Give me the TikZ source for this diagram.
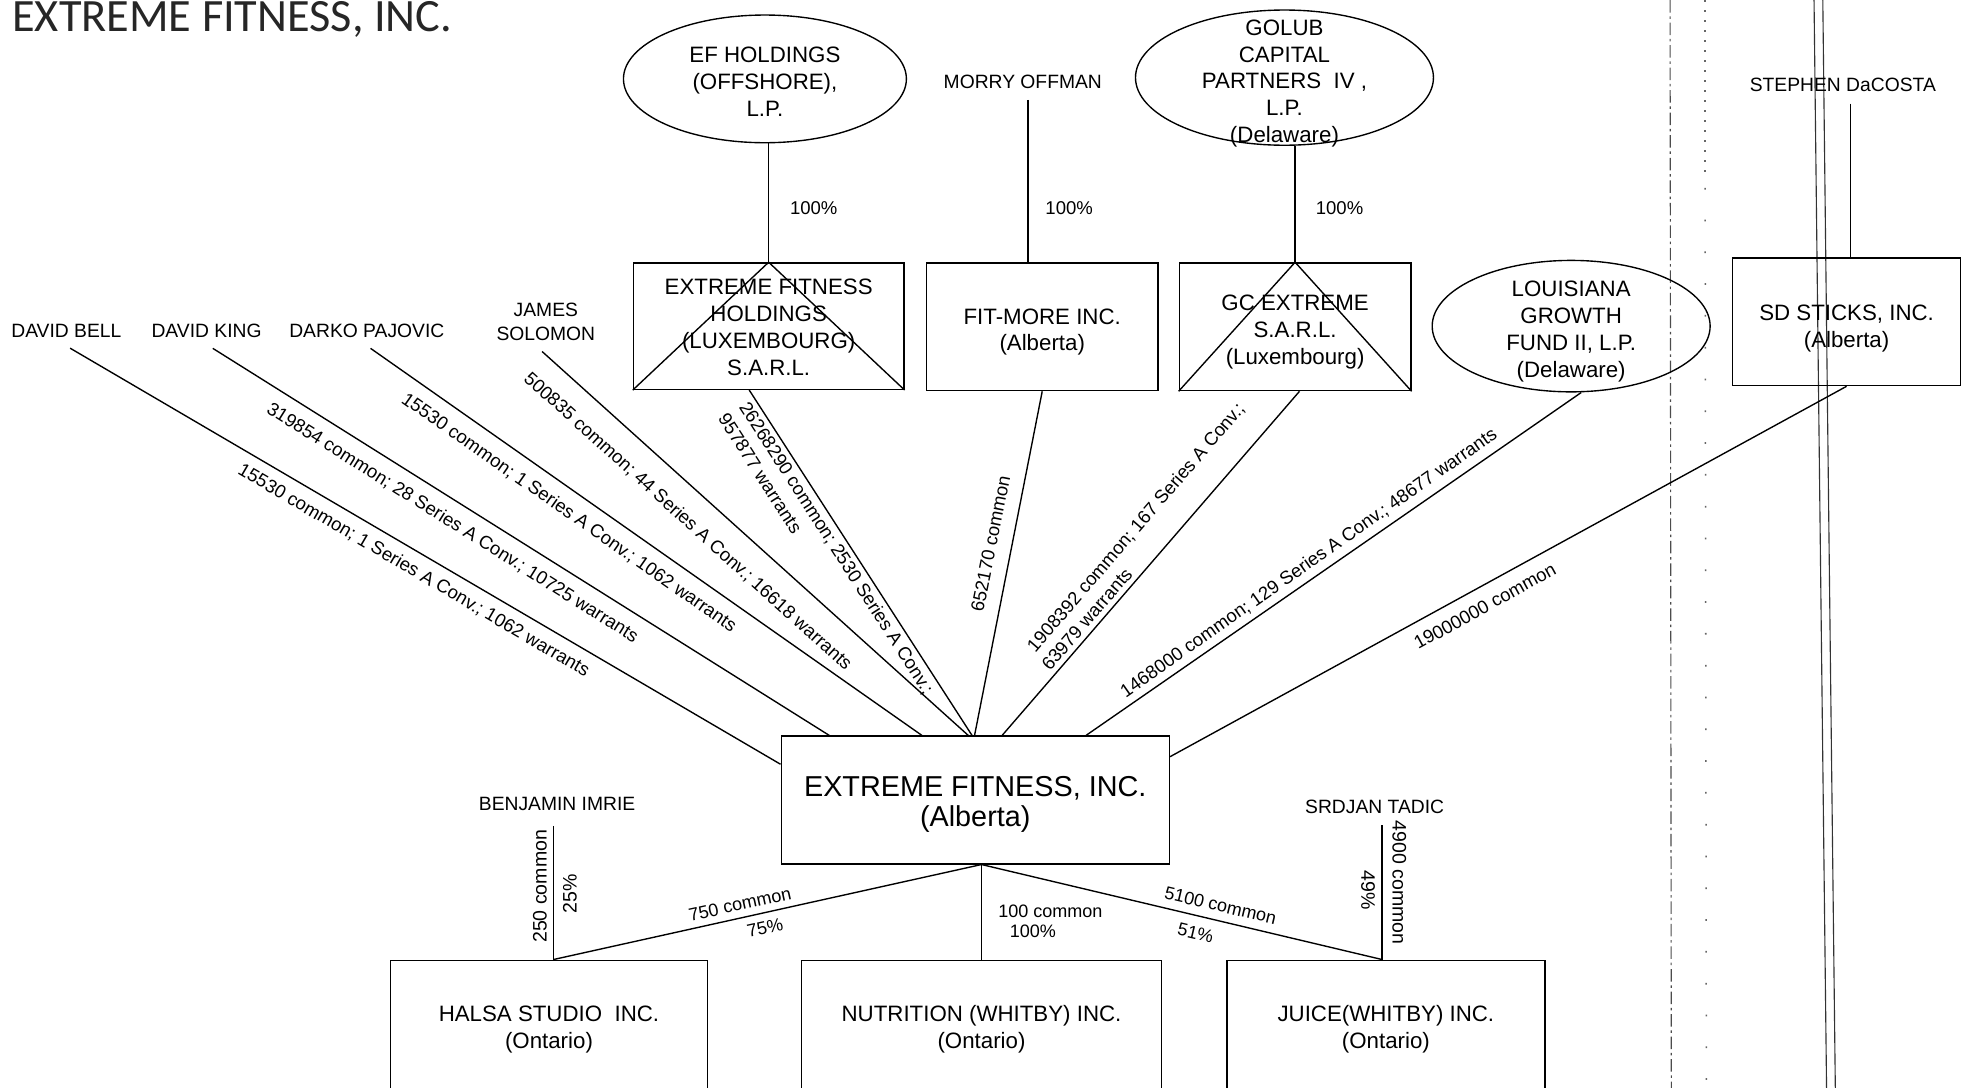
\documentclass[tikz,border=0pt]{standalone}
\usepackage{fontspec}
\setmainfont{Liberation Sans}
\newfontfamily\titlefont{Carlito}
\usetikzlibrary{shapes.geometric}
\newcommand{\mystrut}[1]{\rule{0pt}{#1}}
\tikzset{
  every node/.style={inner sep=0pt},
  conn/.style={line width=0.55pt},
  boxstyle/.style={draw, line width=0.55pt, rectangle, align=center, font=\fontsize{8.9}{10.75}\selectfont},
  ovalstyle/.style={draw, line width=0.55pt, ellipse, inner xsep=0pt, inner ysep=-12pt, align=center, font=\fontsize{8.9}{10.75}\selectfont},
  namestyle/.style={align=center, font=\fontsize{7.7}{9.5}\selectfont},
  topname/.style={namestyle, inner ysep=4.5pt},
  holder/.style={namestyle, inner ysep=4.2pt},
  lab/.style={font=\fontsize{7.4}{9}\selectfont, text height=5.3pt, text depth=0pt},
  blab/.style={font=\fontsize{7.2}{9}\selectfont, text height=5.2pt, text depth=0pt},
  vlab/.style={font=\fontsize{7.8}{9}\selectfont, text height=5.6pt, text depth=0pt},
  scan/.style={line width=0.45pt, black!80},
}
\begin{document}
\begin{tikzpicture}[x=0.5pt,y=-0.5pt]
\useasboundingbox (0,0) rectangle (1568,869);
\clip (0,0) rectangle (1568,869);

% scan artefacts
\draw[scan, black!70, dash pattern=on 5pt off 1.5pt on 1pt off 1.5pt] (1334,0) -- (1335,869);
\draw[scan, black!60, line width=0.6pt, dash pattern=on 0.7pt off 3.3pt] (1362,0) -- (1362,140);
\draw[scan, black!60, line width=0.6pt, dash pattern=on 0.7pt off 12pt] (1362,150) -- (1363,869);
\draw[scan] (1449,0) -- (1459,869);
\draw[scan] (1456,0) -- (1466,869);

% title
\node[anchor=base west, font=\titlefont\fontsize{18.5}{20}\selectfont, text=black!85] (title) at (9.5,25.5) {EXTREME FITNESS, INC.};

% top row
\node[ovalstyle, minimum width=113pt, minimum height=51pt] (efh) at (611,63) {\mystrut{8.4pt}EF HOLDINGS\\(OFFSHORE),\\L.P.};
\node[topname] (morry) at (817,65) {MORRY OFFMAN};
\node[ovalstyle, minimum width=119pt, minimum height=54pt] (golub) at (1026,62) {\mystrut{10.9pt}GOLUB\\CAPITAL\\PARTNERS\ \ IV\ ,\\L.P.\\(Delaware)};
\node[topname] (steph) at (1472,68) {STEPHEN DaCOSTA};

% second row
\node[boxstyle, minimum width=108pt, minimum height=50.5pt] (efl) at (614,260.5) {\mystrut{7.4pt}EXTREME FITNESS\\HOLDINGS\\(LUXEMBOURG)\\S.A.R.L.};
\node[boxstyle, minimum width=92.5pt, minimum height=51pt] (fitm) at (832.5,261) {\mystrut{10.4pt}FIT-MORE INC.\\(Alberta)};
\node[boxstyle, minimum width=92.5pt, minimum height=51pt] (gc) at (1034.5,261) {\mystrut{10.4pt}GC EXTREME\\S.A.R.L.\\(Luxembourg)};
\node[ovalstyle, minimum width=111pt, minimum height=52.5pt] (lou) at (1255,260.5) {\mystrut{10.4pt}LOUISIANA\\GROWTH\\FUND II, L.P.\\(Delaware)};
\node[boxstyle, minimum width=91pt, minimum height=51pt] (sd) at (1475,257) {\mystrut{11.4pt}SD STICKS, INC.\\(Alberta)};
\draw[conn] (efl.south west) -- (efl.north) -- (efl.south east);
\draw[conn] (gc.south west) -- (gc.north) -- (gc.south east);

% individual holders
\node[holder] (bell) at (53,264) {DAVID BELL};
\node[holder] (king) at (165,264) {DAVID KING};
\node[holder] (darko) at (293,264) {DARKO PAJOVIC};
\node[holder] (solomon) at (436,257) {JAMES\\SOLOMON};

% main company
\node[draw, line width=0.55pt, minimum width=155pt, minimum height=51pt, align=center, font=\fontsize{11.5}{12}\selectfont] (main) at (779,639) {\mystrut{11.2pt}EXTREME FITNESS, INC.\\(Alberta)};

% subsidiaries
\node[boxstyle, minimum width=126.5pt, minimum height=52pt] (halsa) at (438.5,819) {\mystrut{9.4pt}HALSA STUDIO\ \ INC.\\(Ontario)};
\node[boxstyle, minimum width=144pt, minimum height=52pt] (nut) at (784,819) {\mystrut{9.4pt}NUTRITION (WHITBY) INC.\\(Ontario)};
\node[boxstyle, minimum width=127pt, minimum height=52pt] (juice) at (1107,819) {\mystrut{9.4pt}JUICE(WHITBY) INC.\\(Ontario)};
\node[namestyle] (ben) at (445,642) {BENJAMIN IMRIE};
\node[namestyle] (srd) at (1098,644.5) {SRDJAN TADIC};

% top connectors
\coordinate (mj) at ([xshift=-5.75pt]fitm.north);
\coordinate (sj) at ([xshift=1.5pt]sd.north);
\draw[conn] (efl.north |- efh.south) -- (efl.north);
\draw[conn] (mj |- morry.south) -- (mj);
\draw[conn] (gc.north |- golub.south) -- (gc.north);
\draw[conn] (sj |- steph.south) -- (sj);
\node[lab] (p1) at (650,166) {100\%};
\node[lab] (p2) at (854,166) {100\%};
\node[lab] (p3) at (1070,166) {100\%};

% connectors to main
\draw[conn] ([xshift=1.5pt]bell.south) -- ([yshift=-11.5pt]main.north west);
\draw[conn] ([xshift=2.5pt]king.south) -- ([xshift=19.5pt]main.north west);
\draw[conn] ([xshift=1.5pt]darko.south) -- ([xshift=56.5pt]main.north west);
\draw[conn] ([xshift=-1.5pt]solomon.south) -- ([xshift=75pt]main.north west);
\draw[conn] ([xshift=46.5pt]efl.south west) -- ([xshift=76.5pt]main.north west);
\draw[conn] (fitm.south) -- ([xshift=77.5pt]main.north west);
\draw[conn] ([xshift=1.75pt]gc.south) -- ([xshift=88.5pt]main.north west);
\draw[conn] ([xshift=4pt]lou.south) -- ([xshift=122pt]main.north west);
\draw[conn] (sd.south) -- ([yshift=-8.5pt]main.north east);

% holding labels
\node[lab, rotate=-30.33] (l1) at (331,455) {15530 common; 1 Series A Conv.; 1062 warrants};
\node[lab, rotate=-32.08] (l2) at (362,417) {319854 common; 28 Series A Conv.; 10725 warrants};
\node[lab, rotate=-34.93] (l3) at (455,409) {15530 common; 1 Series A Conv.; 1062 warrants};
\node[lab, rotate=-42.08] (l4) at (550,416) {500835 common; 44 Series A Conv.; 16618 warrants};
\node[lab, rotate=-57.24] (l5a) at (668.5,437.5) {26268290 common; 2530 Series A Conv.;};
\node[lab, rotate=-57.24] (l5b) at (607.5,378) {957877 warrants};
\node[lab, rotate=78.69] (l6) at (791,434) {652170 common};
\node[lab, rotate=49.25] (l7a) at (907,421) {1908392 common; 167 Series A Conv.;};
\node[lab, rotate=49.25] (l7b) at (868,494.5) {63979 warrants};
\node[lab, rotate=35.04] (l8) at (1045,449) {1468000 common; 129 Series A Conv.; 48677 warrants};
\node[lab, rotate=28.77] (l9) at (1186,484) {19000000 common};

% bottom connectors
\coordinate (ms) at ([xshift=2.5pt]main.south);
\coordinate (hj) at ([xshift=1.75pt]halsa.north);
\coordinate (jj) at ([xshift=-1.5pt]juice.north);
\draw[conn] (ms) -- (hj);
\draw[conn] (ms) -- (nut.north);
\draw[conn] (ms) -- (jj);
\draw[conn] ([xshift=-1.5pt,yshift=-6pt]ben.south) -- (hj);
\draw[conn] ([xshift=3pt,yshift=-4.5pt]srd.south) -- (jj);

% bottom labels
\node[blab, rotate=12.37] (b1) at (591,722) {750 common};
\node[blab, rotate=12.37] (b2) at (611,741) {75\%};
\node[blab] (b3) at (839,728) {100 common};
\node[blab] (b4) at (825,744) {100\%};
\node[blab, rotate=-13.19] (b5) at (975,723) {5100 common};
\node[blab, rotate=-13.19] (b6) at (955,745) {51\%};
\node[vlab, rotate=90] (b7) at (431,708) {250 common};
\node[vlab, rotate=90] (b8) at (455,714) {25\%};
\node[vlab, rotate=-90] (b9) at (1118,705) {4900 common};
\node[vlab, rotate=-90] (b10) at (1093,711) {49\%};
\end{tikzpicture}
\end{document}
